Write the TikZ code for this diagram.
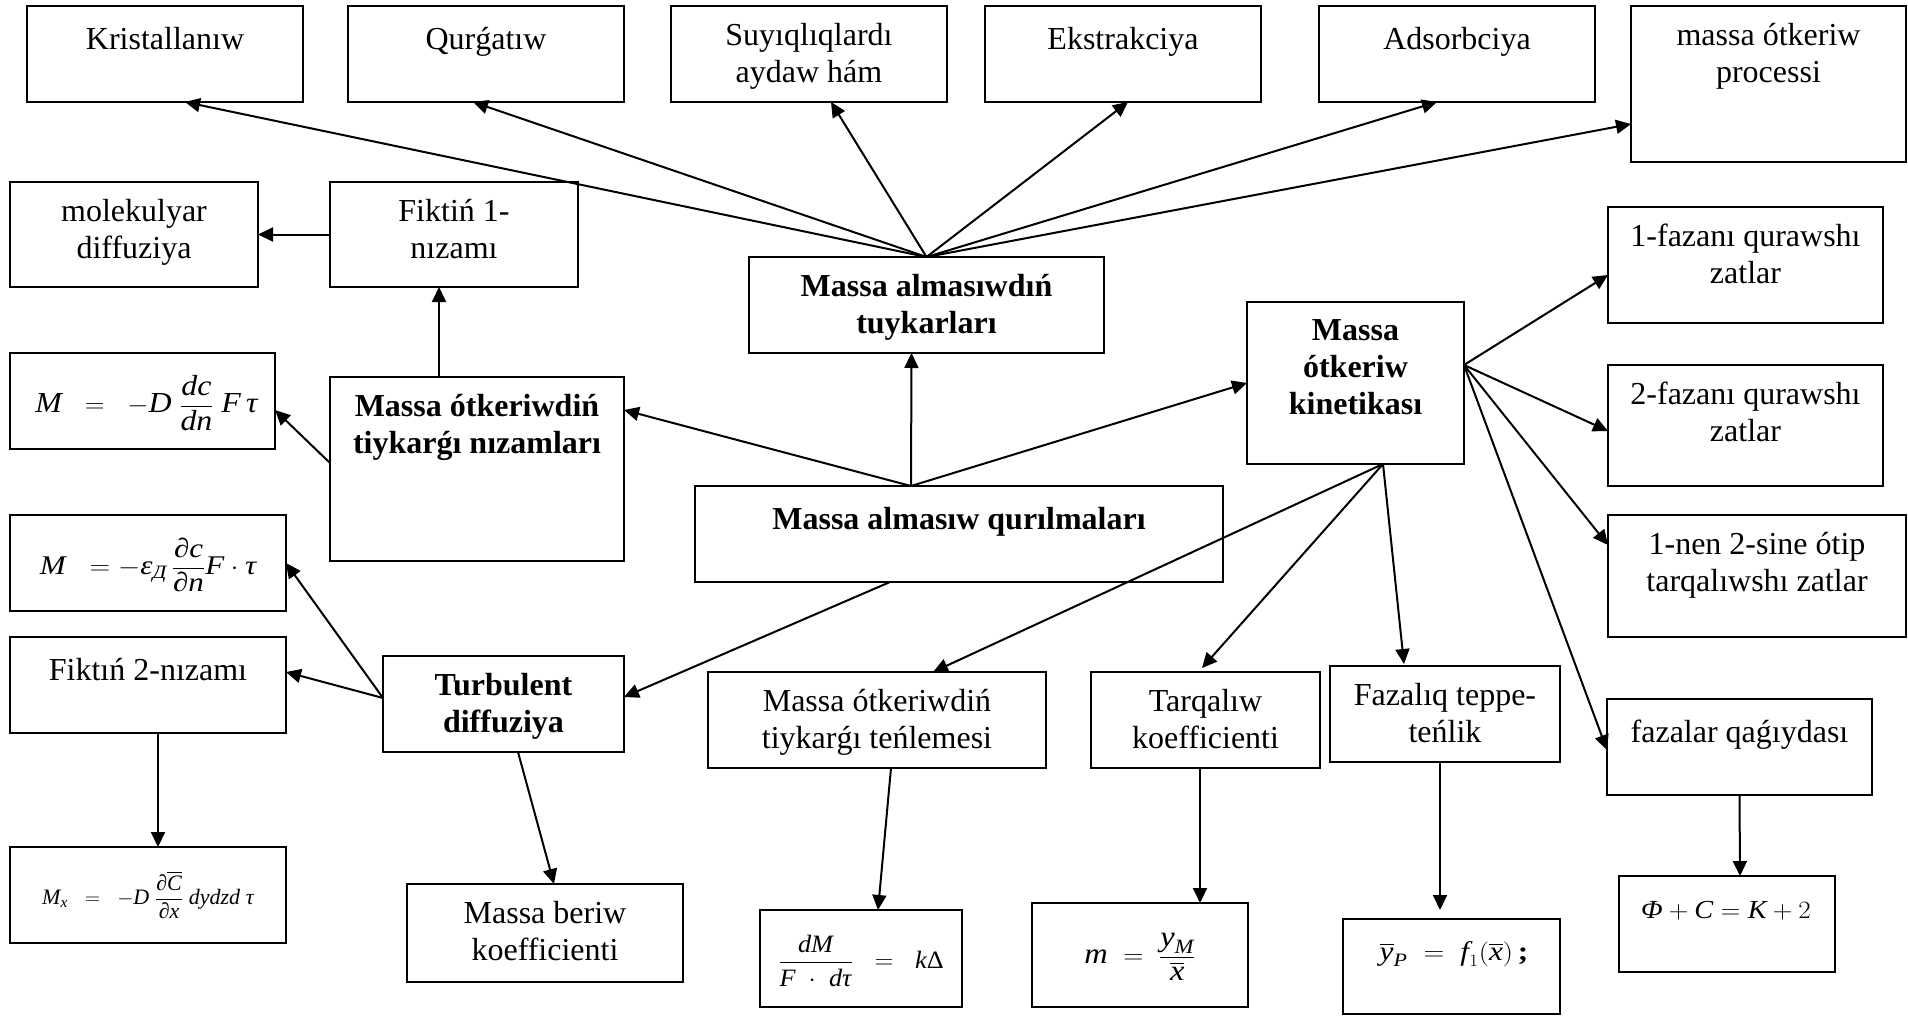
\documentclass[tikz,border=0pt]{standalone}
\usepackage{amsmath}
\usepackage{graphicx}
\usepackage{fontspec}
\setmainfont{Liberation Serif}
\usetikzlibrary{arrows.meta,calc}

% italic letters in formulas, taken from the text font
\newcommand\mi[1]{\textit{#1}}
% framed box given by its corners (x1,y1) and (x2,y2)
\newcommand\placebox[5]{%
  \node[box, minimum width={#4pt-#2pt}, minimum height={#5pt-#3pt}]
    (#1) at ({(#2+#4)/2},{(#3+#5)/2}) {};}

\tikzset{
  box/.style={draw, line width=1.5pt, inner sep=0pt, outer sep=0pt},
  lbl/.style={anchor=north, inner sep=0pt, align=center,
    font=\fontsize{32}{37}\selectfont,
    execute at begin node={\rule{0pt}{26pt}}},
  blbl/.style={lbl, font=\fontsize{32}{37}\selectfont\bfseries},
  fml/.style={inner sep=0pt},
  arr/.style={line width=2pt, -{Triangle[length=15pt,width=14pt]}}
}

\begin{document}
\begin{tikzpicture}[x=1pt,y=-1pt]
\useasboundingbox (0,0) rectangle (1908,1015);

% ---- boxes ----
\placebox{kris}{27}{6}{303}{102}
\placebox{qurg}{348}{6}{624}{102}
\placebox{suyq}{671}{6}{947}{102}
\placebox{ekst}{985}{6}{1261}{102}
\placebox{adso}{1319}{6}{1595}{102}
\placebox{proc}{1631}{6}{1906}{162}
\placebox{molk}{10}{182}{258}{287}
\placebox{fikone}{330}{182}{578}{287}
\placebox{tuyk}{749}{257}{1104}{353}
\placebox{kine}{1247}{302}{1464}{464}
\placebox{fazone}{1608}{207}{1883}{323}
\placebox{faztwo}{1608}{365}{1883}{486}
\placebox{nen}{1608}{515}{1906}{637}
\placebox{eqa}{10}{353}{275}{449}
\placebox{niza}{330}{377}{624}{561}
\placebox{qurl}{695}{486}{1223}{582}
\placebox{eqb}{10}{515}{286}{611}
\placebox{fiktwo}{10}{637}{286}{733}
\placebox{turb}{383}{656}{624}{752}
\placebox{eqc}{10}{847}{286}{943}
\placebox{beri}{407}{884}{683}{982}
\placebox{tenl}{708}{672}{1046}{768}
\placebox{tarq}{1091}{672}{1320}{768}
\placebox{fazq}{1330}{666}{1560}{762}
\placebox{fqag}{1607}{699}{1872}{795}
\placebox{eqd}{760}{910}{962}{1007}
\placebox{eqe}{1032}{903}{1248}{1007}
\placebox{eqf}{1343}{919}{1560}{1014}
\placebox{eqg}{1619}{876}{1835}{972}

% ---- texts ----
\node[lbl] (kris-t) at ([yshift=-17pt]kris.north) {Kristallanıw};
\node[lbl] (qurg-t) at ([yshift=-17pt]qurg.north) {Qurǵatıw};
\node[lbl] (suyq-t) at ([yshift=-17pt]suyq.north) {Suyıqlıqlardı\\aydaw hám};
\node[lbl] (ekst-t) at ([yshift=-17pt]ekst.north) {Ekstrakciya};
\node[lbl] (adso-t) at ([yshift=-17pt]adso.north) {Adsorbciya};
\node[lbl] (proc-t) at ([yshift=-17pt]proc.north) {massa ótkeriw\\processi};
\node[lbl] (molk-t) at ([yshift=-17pt]molk.north) {molekulyar\\diffuziya};
\node[lbl] (fikone-t) at ([yshift=-17pt]fikone.north) {Fiktiń 1-\\nızamı};
\node[blbl] (tuyk-t) at ([yshift=-17pt]tuyk.north) {Massa almasıwdıń\\tuykarları};
\node[blbl] (kine-t) at ([yshift=-17pt]kine.north) {Massa\\ótkeriw\\kinetikası};
\node[lbl] (fazone-t) at ([yshift=-17pt]fazone.north) {1-fazanı qurawshı\\zatlar};
\node[lbl] (faztwo-t) at ([yshift=-17pt]faztwo.north) {2-fazanı qurawshı\\zatlar};
\node[lbl] (nen-t) at ([yshift=-17pt]nen.north) {1-nen 2-sine ótip\\tarqalıwshı zatlar};
\node[blbl] (niza-t) at ([yshift=-17pt]niza.north) {Massa ótkeriwdiń\\tiykarǵı nızamları};
\node[blbl] (qurl-t) at ([yshift=-17pt]qurl.north) {Massa almasıw qurılmaları};
\node[lbl] (fiktwo-t) at ([yshift=-17pt]fiktwo.north) {Fiktıń 2-nızamı};
\node[blbl] (turb-t) at ([yshift=-17pt]turb.north) {Turbulent\\diffuziya};
\node[lbl] (beri-t) at ([yshift=-17pt]beri.north) {Massa beriw\\koefficienti};
\node[lbl] (tenl-t) at ([yshift=-17pt]tenl.north) {Massa ótkeriwdiń\\tiykarǵı teńlemesi};
\node[lbl] (tarq-t) at ([yshift=-17pt]tarq.north) {Tarqalıw\\koefficienti};
\node[lbl] (fazq-t) at ([yshift=-17pt]fazq.north) {Fazalıq teppe-\\teńlik};
\node[lbl] (fqag-t) at ([yshift=-17pt]fqag.north) {fazalar qaǵıydası};

% ---- formulas (set a little wide, as in the original typesetting) ----
\node[fml, font=\fontsize{29}{33}\selectfont] (eqa-t) at ([xshift=4pt,yshift=-2pt]eqa.center)
  {\scalebox{1.1}[1]{$\mi{M}\;\;=\;\;-\mi{D}\;\dfrac{\mi{dc}}{\mi{dn}}\;\mi{F\,τ}$}};
\node[fml, font=\fontsize{27}{31}\selectfont] (eqb-t) at ([yshift=-2pt]eqb.center)
  {\scalebox{1.15}[1]{$\mi{M}\;\;=-\mi{ε}_{\mi{Д}}\,\dfrac{\mi{∂c}}{\mi{∂n}}\mi{F}\cdot\mi{τ}$}};
\node[fml, font=\fontsize{22}{26}\selectfont] (eqc-t) at ([yshift=0pt]eqc.center)
  {$\mi{M}_{\mi{x}}\;\;=\;\;-\mi{D}\;\dfrac{\mi{∂}\overline{\mi{C}}}{\mi{∂x}}\;\mi{dydzd}\;\mi{τ}$};
\node[fml, font=\fontsize{25}{29}\selectfont] (eqd-t) at ([yshift=-2pt]eqd.center)
  {\scalebox{1.05}[1]{$\dfrac{\mi{dM}}{\mi{F}\;\cdot\;\mi{dτ}}\;\;=\;\;\mi{k}\text{Δ}$}};
\node[fml, font=\fontsize{29}{33}\selectfont] (eqe-t) at ([yshift=-2pt]eqe.center)
  {\scalebox{1.12}[1]{$\mi{m}\;=\;\dfrac{\mi{y}_{\mi{M}}}{\overline{\mi{x}}}$}};
\node[fml, font=\fontsize{27}{31}\selectfont, anchor=base] (eqf-t) at (1454,960)
  {\scalebox{1.16}[1]{$\overline{\mi{y}}_{\mi{P}}\;=\;\mi{f}_{1}(\overline{\mi{x}})\,\textbf{;}$}};
\node[fml, font=\fontsize{26}{30}\selectfont, anchor=base] (eqg-t) at (1726,918)
  {\scalebox{1.09}[1]{$\mi{Φ}+\mi{C}=\mi{K}+2$}};

% ---- connectors ----
% fan above the principles box
\draw[arr] (tuyk.north) -- ([xshift=20pt]kris.south);
\draw[arr] (tuyk.north) -- ([xshift=-13pt]qurg.south);
\draw[arr] (tuyk.north) -- ([xshift=22pt]suyq.south);
\draw[arr] (tuyk.north) -- ([xshift=5pt]ekst.south);
\draw[arr] (tuyk.north) -- ([xshift=-20pt]adso.south);
\draw[arr] (tuyk.north) -- ([yshift=-40pt]proc.west);
% from the equipment box
\draw[arr] ([xshift=-48pt]qurl.north) -- ([xshift=-15pt]tuyk.south);
\draw[arr] ([xshift=-48pt]qurl.north) -- ([yshift=59pt]niza.east);
\draw[arr] ([xshift=-48pt]qurl.north) -- (kine.west);
\draw[arr] ([xshift=-69pt]qurl.south) -- ([yshift=7pt]turb.east);
% basic laws
\draw[arr] ([xshift=-38pt]niza.north) -- ([xshift=-15pt]fikone.south);
\draw[arr] ([yshift=6pt]niza.west) -- ([yshift=-9pt]eqa.east);
\draw[arr] (fikone.west) -- (molk.east);
% turbulent diffusion
\draw[arr] ([yshift=6pt]turb.west) -- (eqb.east);
\draw[arr] ([yshift=6pt]turb.west) -- ([yshift=13pt]fiktwo.east);
\draw[arr] ([xshift=10pt]fiktwo.south) -- ([xshift=10pt]eqc.north);
\draw[arr] ([xshift=14.5pt]turb.south) -- ([xshift=9pt]beri.north);
% kinetics
\draw[arr] ([xshift=27.5pt]kine.south) -- ([xshift=56pt]tenl.north);
\draw[arr] ([xshift=27.5pt]kine.south) -- ([xshift=-3.5pt,yshift=4pt]tarq.north);
\draw[arr] ([xshift=27.5pt]kine.south) -- ([xshift=-41pt,yshift=2pt]fazq.north);
\draw[arr] ([yshift=18pt]kine.east) -- ([yshift=-10pt]fazone.west);
\draw[arr] ([yshift=18pt]kine.east) -- ([yshift=-5.5pt]faztwo.west);
\draw[arr] ([yshift=18pt]kine.east) -- ([yshift=31pt]nen.west);
\draw[arr] ([yshift=18pt]kine.east) -- ([yshift=-3pt]fqag.west);
% down to the formulas
\draw[arr] ([xshift=14pt]tenl.south) -- ([xshift=17pt]eqd.north);
\draw[arr] ([xshift=-5.5pt]tarq.south) -- ([xshift=60pt]eqe.north);
\draw[arr] ([xshift=-5pt]fazq.south) -- ([xshift=-11.5pt,yshift=9pt]eqf.north);
\draw[arr] (fqag.south) -- ([xshift=13pt]eqg.north);
\end{tikzpicture}
\end{document}
